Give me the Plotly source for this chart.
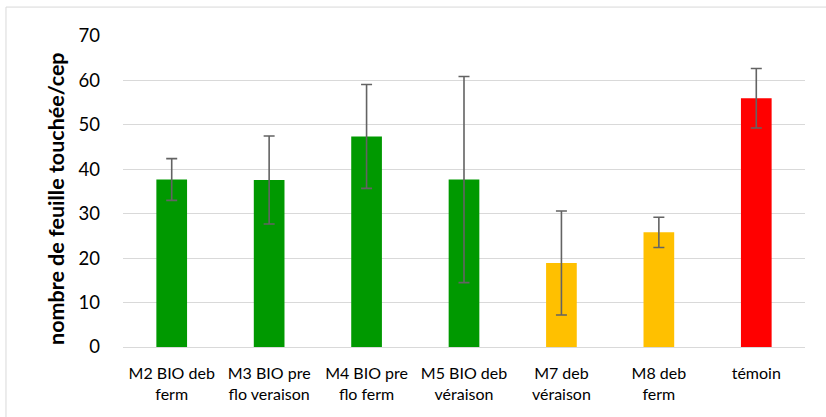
import plotly.graph_objects as go

categories = ["M2 BIO deb<br>ferm", "M3 BIO pre<br>flo veraison", "M4 BIO pre<br>flo ferm",
              "M5 BIO deb<br>véraison", "M7 deb<br>véraison", "M8 deb<br>ferm", "témoin"]
values = [37.7, 37.6, 47.4, 37.7, 18.9, 25.8, 56.0]
errors = [4.7, 9.9, 11.7, 23.2, 11.7, 3.4, 6.7]
colors = ["#009900", "#009900", "#009900", "#009900", "#FFC000", "#FFC000", "#FF0000"]
y_ticks = [0, 10, 20, 30, 40, 50, 60, 70]
y_title = "nombre de feuille touchée/cep"

font_family = "Lato, Carlito, Calibri, sans-serif"

fig = go.Figure(go.Bar(
    x=categories, y=values,
    marker=dict(color=colors, line=dict(width=0)),
    error_y=dict(type="data", array=errors, visible=True, color="#636363", thickness=1.6, width=5.5),
))

fig.update_layout(
    width=826, height=417,
    margin=dict(l=123, r=21, t=36, b=70),
    plot_bgcolor="white", paper_bgcolor="white",
    bargap=0.685,
    showlegend=False,
    font=dict(family=font_family, color="#000000"),
    xaxis=dict(tickfont=dict(size=16), showline=True, linecolor="#d9d9d9", linewidth=1,
               ticks="", showgrid=False, ticklabelstandoff=12),
    yaxis=dict(range=[0, 70], tickvals=y_ticks, tickfont=dict(size=18.5),
               showgrid=True, gridcolor="#d9d9d9", gridwidth=1, zeroline=False,
               ticks="", ticklabelstandoff=22),
    annotations=[dict(text="<b>" + y_title + "</b>", textangle=-90, xref="paper", yref="paper",
                      x=(56 - 123) / 682, y=(347 - 199) / 311, xanchor="center", yanchor="middle",
                      showarrow=False, font=dict(size=21.5, family=font_family, color="#000000"))],
    shapes=[dict(type="rect", xref="paper", yref="paper", x0=-0.1716, x1=1.04, y0=-0.25, y1=1.093,
                 line=dict(color="#d9d9d9", width=1))],
)

fig.write_html("out.html", config={"displayModeBar": False},
               post_script="document.body.style.margin='0';document.body.style.padding='0';")
